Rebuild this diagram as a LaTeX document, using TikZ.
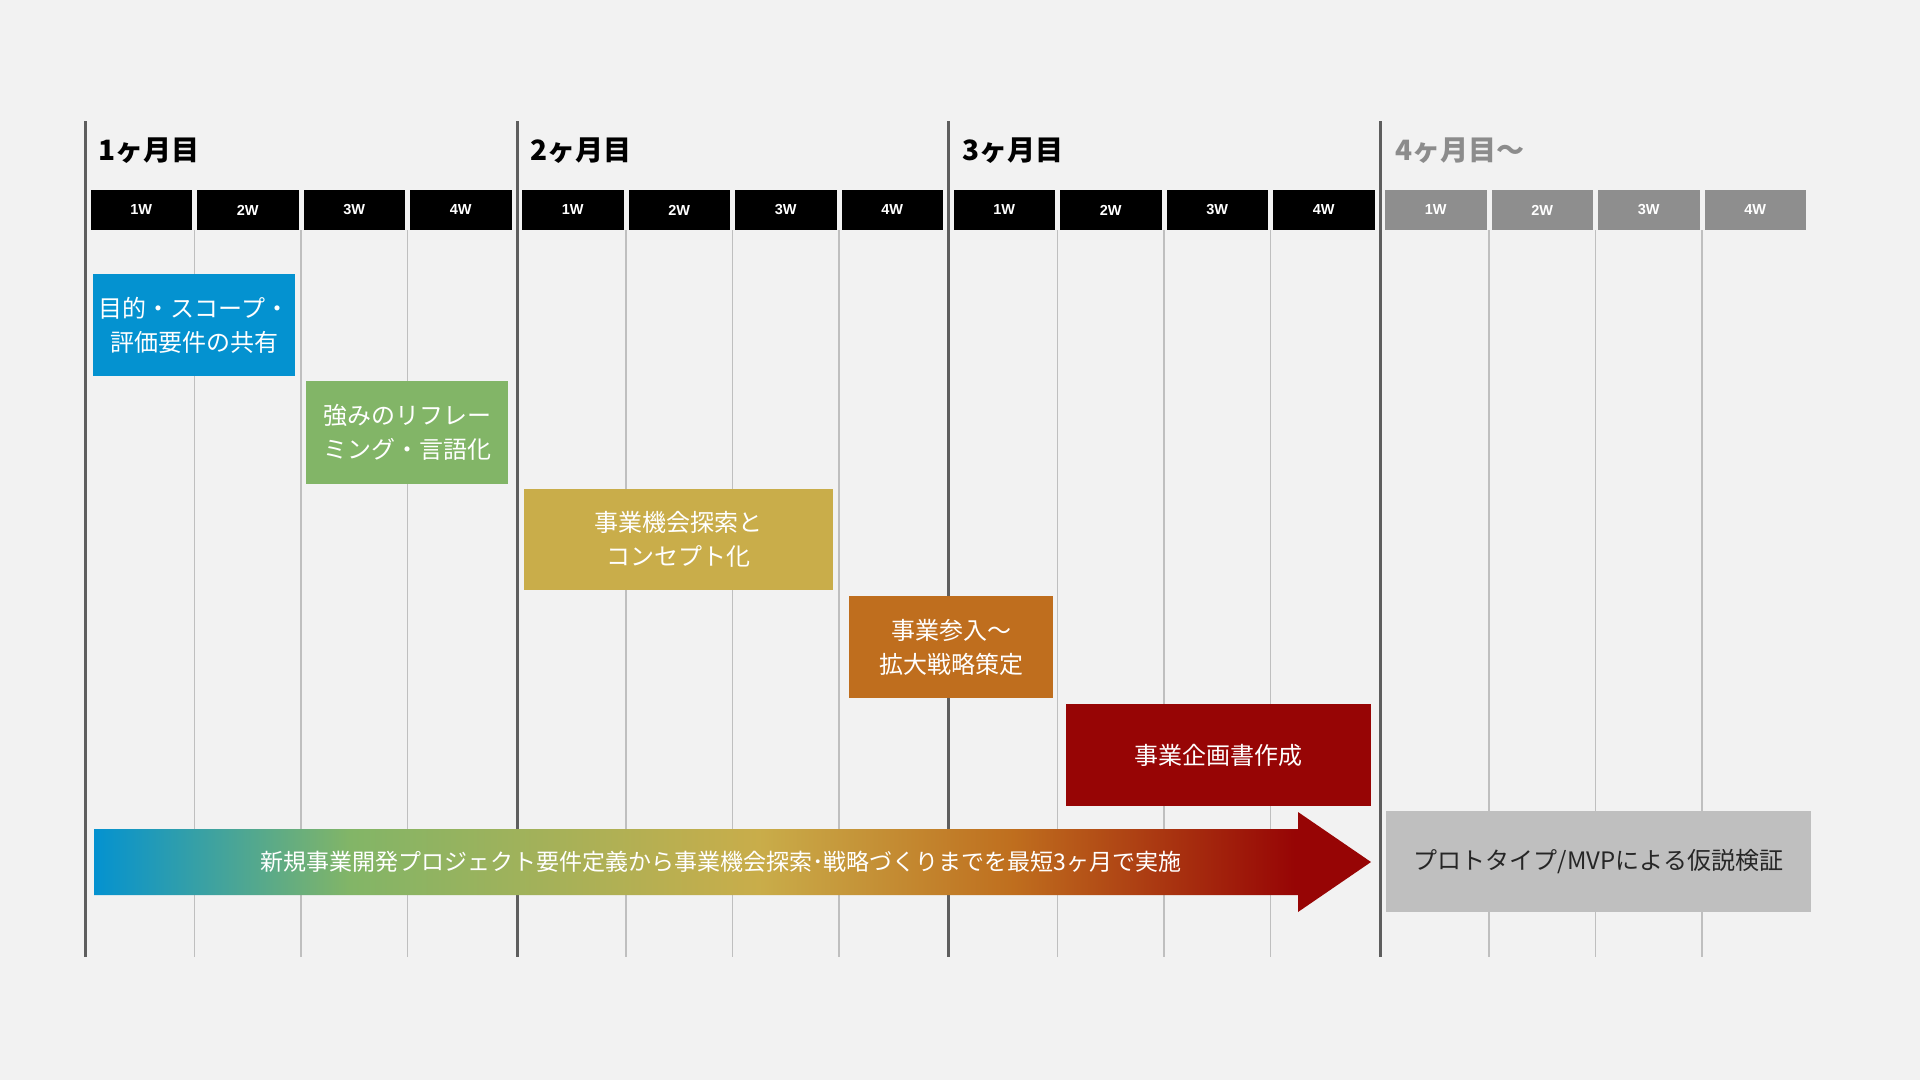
\documentclass[tikz,border=0pt]{standalone}
\usepackage{fontspec}
\setmainfont{Noto Sans CJK JP}
\newfontfamily\wkfont{Liberation Sans}
\definecolor{bg}{HTML}{F2F2F2}
\definecolor{mline}{HTML}{5E5E5E}
\definecolor{wline}{HTML}{BFBFBF}
\definecolor{cblue}{HTML}{0492D0}
\definecolor{cgreen}{HTML}{82B567}
\definecolor{cgold}{HTML}{C9AD4A}
\definecolor{corange}{HTML}{BF6E1E}
\definecolor{cred}{HTML}{970505}
\definecolor{cgray}{HTML}{BFBFBF}
\definecolor{hgray}{HTML}{8E8E8E}
\definecolor{lgray}{HTML}{8C8C8C}
\definecolor{dtext}{HTML}{262626}
\pgfdeclarehorizontalshading{rainbowarrow}{100bp}{color(0bp)=(cblue); color(25bp)=(cblue); color(35bp)=(cgreen); color(51bp)=(cgold); color(61bp)=(corange); color(72bp)=(cred); color(100bp)=(cred)}
\tikzset{
  wkbox/.style={fill=black, text=white, minimum width=101.5pt, minimum height=40pt, inner sep=0pt, font=\wkfont\bfseries\fontsize{14.5}{16}\selectfont},
  mlabel/.style={anchor=west, inner sep=0pt, font=\bfseries\fontsize{28}{32}\selectfont},
  task/.style={text=white, inner sep=0pt, align=center, font=\fontsize{24}{34}\selectfont},
  arrtext/.style={text=white, inner sep=0pt, font=\fontsize{23}{26}\selectfont},
  mdiv/.style={draw=mline, line width=3pt},
  wdiv/.style={draw=wline, line width=1.5pt}
}
\begin{document}
\begin{tikzpicture}[x=1pt,y=-1pt]
\fill[bg] (0,0) rectangle (1920,1080);
\useasboundingbox (0,0) rectangle (1920,1080);
% week lines
\foreach \m in {0,...,3}{
  \foreach \k in {1,2,3}{
    \draw[wdiv] ({85.5+431.5*\m+2.5+106.5*\k},230) -- ({85.5+431.5*\m+2.5+106.5*\k},957);
  }
}
% month lines
\foreach \m in {0,...,3}{
  \draw[mdiv] ({85.5+431.5*\m},121) -- ({85.5+431.5*\m},957);
}
% week headers
\foreach \m in {0,1,2}{
  \foreach \k/\lab in {0/1W,1/2W,2/3W,3/4W}{
    \node[wkbox] (w\m\k) at ({85.5+431.5*\m+5+106.5*\k+50.75},210) {\lab};
  }
}
\foreach \k/\lab in {0/1W,1/2W,2/3W,3/4W}{
  \node[wkbox, fill=hgray] (w3\k) at ({85.5+431.5*3+5+106.5*\k+50.75},210) {\lab};
}
% month labels
\node[mlabel] (m1) at (98,151) {1ヶ月目};
\node[mlabel] (m2) at (530,151) {2ヶ月目};
\node[mlabel] (m3) at (962,151) {3ヶ月目};
\node[mlabel, text=lgray] (m4) at (1395,151) {4ヶ月目〜};
% tasks
\node[task, fill=cblue, minimum width=202pt, minimum height=102pt] (t1) at (194,325) {目的・スコープ・\\評価要件の共有};
\node[task, fill=cgreen, minimum width=202pt, minimum height=103pt] (t2) at (407,432.5) {強みのリフレー\\ミング・言語化};
\node[task, fill=cgold, minimum width=309pt, minimum height=101pt] (t3) at (678.5,539.5) {事業機会探索と\\コンセプト化};
\node[task, fill=corange, minimum width=204pt, minimum height=102pt] (t4) at (951,647) {事業参入〜\\拡大戦略策定};
\node[task, fill=cred, minimum width=305pt, minimum height=102pt] (t5) at (1218.5,755) {事業企画書作成};
\node[task, fill=cgray, text=dtext, minimum width=425pt, minimum height=101pt] (t6) at (1598.5,861.5) {プロトタイプ/MVPによる仮説検証};
% gradient arrow
\shade[shading=rainbowarrow] (94,829) -- (1298,829) -- (1298,812) -- (1371,862) -- (1298,912) -- (1298,895) -- (94,895) -- cycle;
\node[arrtext] (arr) at (721,862) {新規事業開発プロジェクト要件定義から事業機会探索･戦略づくりまでを最短3ヶ月で実施};
\end{tikzpicture}
\end{document}
